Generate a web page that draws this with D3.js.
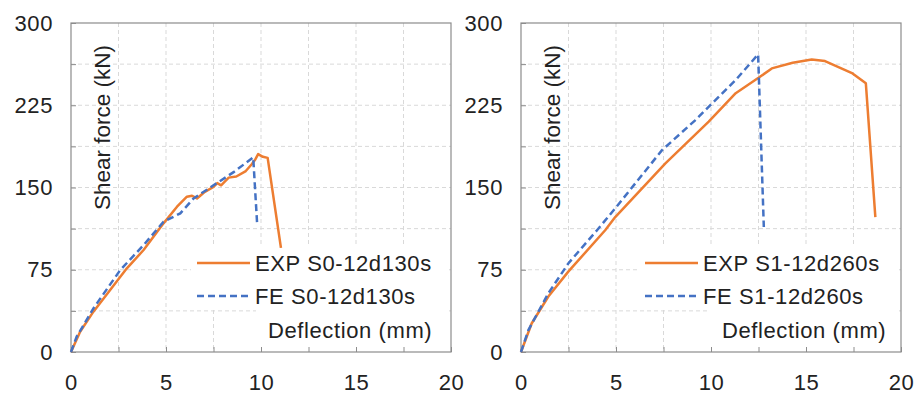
<!DOCTYPE html>
<html>
<head>
<meta charset="utf-8">
<script src="https://cdn.jsdelivr.net/npm/d3@7"></script>
<style>
  body { margin: 0; background: #fff; }
  svg { display: block; font-family: "Liberation Sans", Arial, sans-serif; }
  .grid-line { stroke: #d9d9d9; stroke-width: 1; stroke-dasharray: 4 3; }
  .axis path { display: none; }
  .axis line { stroke: #8c8c8c; }
  .axis text { font-size: 22px; letter-spacing: 0.6px; fill: #222; }
  .label { font-size: 22px; letter-spacing: 0.6px; fill: #222; }
</style>
</head>
<body>
<div class="container"></div>
<script>
// data: [deflection (mm), shear force (kN)]
const expS0 = [
  [0, 0], [0.48, 18.5], [1.18, 36.8], [2.06, 56.5], [2.94, 76.3], [3.82, 93],
  [4.87, 117.3], [5.58, 132.5], [6.1, 141.6], [6.37, 142.5], [6.63, 140],
  [7.0, 145.5], [7.5, 150.6], [7.7, 154], [7.9, 152], [8.3, 159], [8.7, 160],
  [9.2, 165], [9.5, 171], [9.7, 175.6], [9.85, 180.5], [10.1, 178],
  [10.35, 177], [11.05, 95]
];
const feS0 = [
  [0, 0], [0.3, 14], [1.18, 39.8], [2.59, 74.7], [3.82, 97.5], [4.87, 118.8],
  [5.75, 126.4], [6.45, 140], [7.5, 152], [8.56, 164], [9.59, 177.5],
  [9.8, 115.8]
];
const expS1 = [
  [0, 0], [0.56, 26], [1.44, 50.6], [2.5, 73.5], [4.43, 111], [4.96, 123],
  [7.6, 172], [9.88, 210], [11.3, 236], [12.5, 250], [13.2, 258.6],
  [14.3, 263.7], [15.3, 266.8], [16.0, 265.3], [17.45, 254], [18.15, 245],
  [18.65, 123]
];
const feS1 = [
  [0, 0], [0.39, 20], [1.44, 53.6], [2.5, 81], [4.0, 111], [4.96, 131],
  [7.42, 184], [9.18, 211.5], [11.3, 248], [12.48, 271.4], [12.78, 114]
];
const xTicks = [0, 5, 10, 15, 20];
const yTicks = [0, 75, 150, 225, 300];
const xGridValues = d3.range(0, 20.01, 2.5);
const yGridValues = d3.range(0, 300.01, 37.5);
const legendS0 = ["EXP S0-12d130s", "FE S0-12d130s"];
const legendS1 = ["EXP S1-12d260s", "FE S1-12d260s"];

const orange = "#ed7d31";
const blue = "#4472c4";

const totalWidth = 915;
const totalHeight = 394;
const plotWidth = 380;
const plotTop = 23;
const plotBottom = 352;

const svg = d3.select(".container")
  .append("svg")
  .attr("width", totalWidth)
  .attr("height", totalHeight);

function drawPanel(left, exp, fe, names, legendX, titleX) {
  const xScale = d3.scaleLinear().domain([0, 20]).range([left, left + plotWidth]);
  const yScale = d3.scaleLinear().domain([0, 300]).range([plotBottom, plotTop]);
  const g = svg.append("g");

  // dashed grid
  g.selectAll(".vgrid")
    .data(xGridValues.slice(1, -1))
    .join("line")
    .attr("class", "grid-line")
    .attr("x1", d => xScale(d)).attr("x2", d => xScale(d))
    .attr("y1", plotTop).attr("y2", plotBottom);
  g.selectAll(".hgrid")
    .data(yGridValues.slice(1, -1))
    .join("line")
    .attr("class", "grid-line")
    .attr("x1", left).attr("x2", left + plotWidth)
    .attr("y1", d => yScale(d)).attr("y2", d => yScale(d));

  // white boxes behind legend and x title
  g.append("rect")
    .attr("x", legendX - 6).attr("y", 247)
    .attr("width", left + plotWidth - 2 - (legendX - 6)).attr("height", 63)
    .attr("fill", "#fff");
  g.append("rect")
    .attr("x", titleX - 12).attr("y", 310)
    .attr("width", left + plotWidth - 2 - (titleX - 12)).attr("height", 40)
    .attr("fill", "#fff");

  // axes with inward ticks
  g.append("g")
    .attr("class", "axis")
    .attr("transform", `translate(0,${plotBottom})`)
    .call(d3.axisBottom(xScale)
      .tickValues(xGridValues)
      .tickSizeInner(-5).tickSizeOuter(0).tickPadding(22)
      .tickFormat(d => xTicks.includes(d) ? d : ""));
  g.append("g")
    .attr("class", "axis")
    .attr("transform", `translate(${left},0)`)
    .call(d3.axisLeft(yScale)
      .tickValues(yGridValues)
      .tickSizeInner(-5).tickSizeOuter(0).tickPadding(18)
      .tickFormat(d => yTicks.includes(d) ? d : ""));

  g.append("rect")
    .attr("x", left).attr("y", plotTop)
    .attr("width", plotWidth).attr("height", plotBottom - plotTop)
    .attr("fill", "none")
    .attr("stroke", "#8c8c8c")
    .attr("stroke-width", 1.2);

  const line = d3.line().x(d => xScale(d[0])).y(d => yScale(d[1]));

  g.append("path")
    .datum(exp)
    .attr("d", line)
    .attr("fill", "none")
    .attr("stroke", orange)
    .attr("stroke-width", 2.5)
    .attr("stroke-linejoin", "round");
  g.append("path")
    .datum(fe)
    .attr("d", line)
    .attr("fill", "none")
    .attr("stroke", blue)
    .attr("stroke-width", 2.5)
    .attr("stroke-dasharray", "7 4");

  // y title
  g.append("text")
    .attr("transform", `translate(${left + 39},127.5) rotate(-90)`)
    .attr("text-anchor", "middle")
    .attr("font-size", 22.5)
    .attr("fill", "#222")
    .text("Shear force (kN)");

  // legend
  const legend = g.append("g").attr("transform", `translate(${legendX},0)`);
  legend.append("line")
    .attr("x1", 0).attr("x2", 53).attr("y1", 263).attr("y2", 263)
    .attr("stroke", orange).attr("stroke-width", 2.5);
  legend.append("line")
    .attr("x1", 0).attr("x2", 53).attr("y1", 296).attr("y2", 296)
    .attr("stroke", blue).attr("stroke-width", 2.5)
    .attr("stroke-dasharray", "7 4");
  legend.selectAll("text")
    .data(names)
    .join("text")
    .attr("class", "label")
    .attr("x", 58)
    .attr("y", (d, i) => 271 + i * 33)
    .text(d => d);

  g.append("text")
    .attr("class", "label")
    .attr("x", titleX).attr("y", 338)
    .text("Deflection (mm)");
}

drawPanel(71, expS0, feS0, legendS0, 197, 268);
drawPanel(521, expS1, feS1, legendS1, 645, 722);
</script>
</body>
</html>
